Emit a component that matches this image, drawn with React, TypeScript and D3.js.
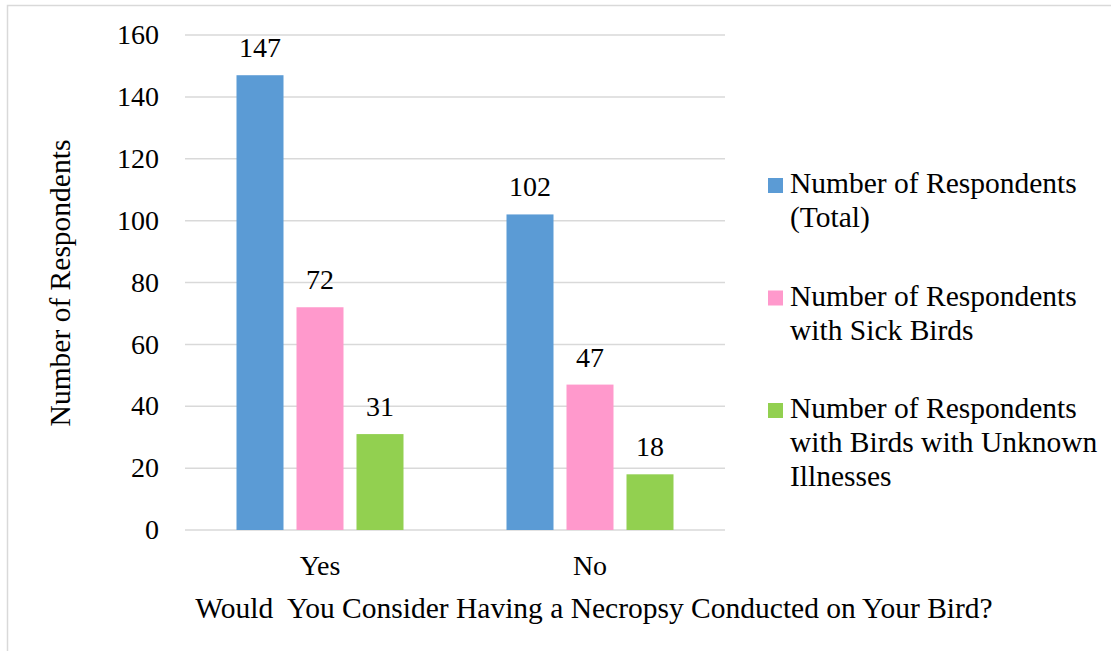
import React from "react";
import * as d3 from "d3";

const categories = ["Yes", "No"];
const seriesNames = [
  ["Number of Respondents", "(Total)"],
  ["Number of Respondents", "with Sick Birds"],
  ["Number of Respondents", "with Birds with Unknown", "Illnesses"],
];
const seriesKeys = ["total", "sick", "unknown"];
const totalValues = [147, 102];
const sickValues = [72, 47];
const unknownValues = [31, 18];
const yTicks = [0, 20, 40, 60, 80, 100, 120, 140, 160];
const colors = ["#5B9BD5", "#FF99CC", "#92D050"];

const W = 1111;
const H = 651;
const FONT = "Liberation Serif, Tinos, DejaVu Serif, serif";
const SMALL = 28;
const LARGE = 29.5;

export default function App() {
  const plot = { left: 185, right: 725, top: 35, bottom: 530 };
  const values = [totalValues, sickValues, unknownValues];

  const y = d3.scaleLinear().domain([0, 160]).range([plot.bottom, plot.top]);
  const x0 = d3.scaleBand().domain(categories).range([plot.left, plot.right]).padding(0);
  const bw = x0.bandwidth();
  const p = 13 / 60;
  const x1 = d3
    .scaleBand()
    .domain(seriesKeys)
    .range([bw / 2 - 90, bw / 2 + 90])
    .paddingInner(p)
    .paddingOuter(p / 2);

  const txt = { fontFamily: FONT, fill: "#000" } as const;

  return (
    <div style={{ position: "fixed", left: 0, top: 0 }}>
      <svg width={W} height={H} style={{ display: "block", background: "#fff", fontFamily: FONT }}>
        <rect x={7.5} y={5.5} width={W} height={H} fill="none" stroke="#d9d9d9" strokeWidth={1.5} />
        {yTicks.map((t) => (
          <g key={t}>
            <line x1={plot.left} x2={plot.right} y1={y(t)} y2={y(t)} stroke="#d9d9d9" strokeWidth={1.5} />
            <text x={159} y={y(t)} dy="0.33em" textAnchor="end" fontSize={SMALL} style={txt}>
              {t}
            </text>
          </g>
        ))}
        {categories.map((c, ci) => (
          <g key={c} transform={`translate(${x0(c)},0)`}>
            {seriesKeys.map((k, si) => {
              const v = values[si][ci];
              const bx = x1(k)!;
              return (
                <g key={k}>
                  <rect x={bx} y={y(v)} width={x1.bandwidth()} height={y(0) - y(v)} fill={colors[si]} />
                  <text x={bx + x1.bandwidth() / 2} y={y(v) - 18} textAnchor="middle" fontSize={SMALL} style={txt}>
                    {v}
                  </text>
                </g>
              );
            })}
            <text x={bw / 2} y={575} textAnchor="middle" fontSize={SMALL} style={txt}>
              {c}
            </text>
          </g>
        ))}
        <text x={594} y={618} textAnchor="middle" fontSize={LARGE} style={{ ...txt, whiteSpace: "pre" }}>
          {"Would  You Consider Having a Necropsy Conducted on Your Bird?"}
        </text>
        <text transform={`translate(70,283) rotate(-90)`} textAnchor="middle" fontSize={LARGE} style={txt}>
          Number of Respondents
        </text>
        {seriesNames.map((lines, i) => {
          const base = 193 + i * 112.5;
          return (
            <g key={i}>
              <rect x={768} y={base - 15} width={15} height={15} fill={colors[i]} />
              {lines.map((ln, li) => (
                <text key={li} x={790} y={base + li * 34} fontSize={LARGE} style={txt}>
                  {ln}
                </text>
              ))}
            </g>
          );
        })}
      </svg>
    </div>
  );
}
